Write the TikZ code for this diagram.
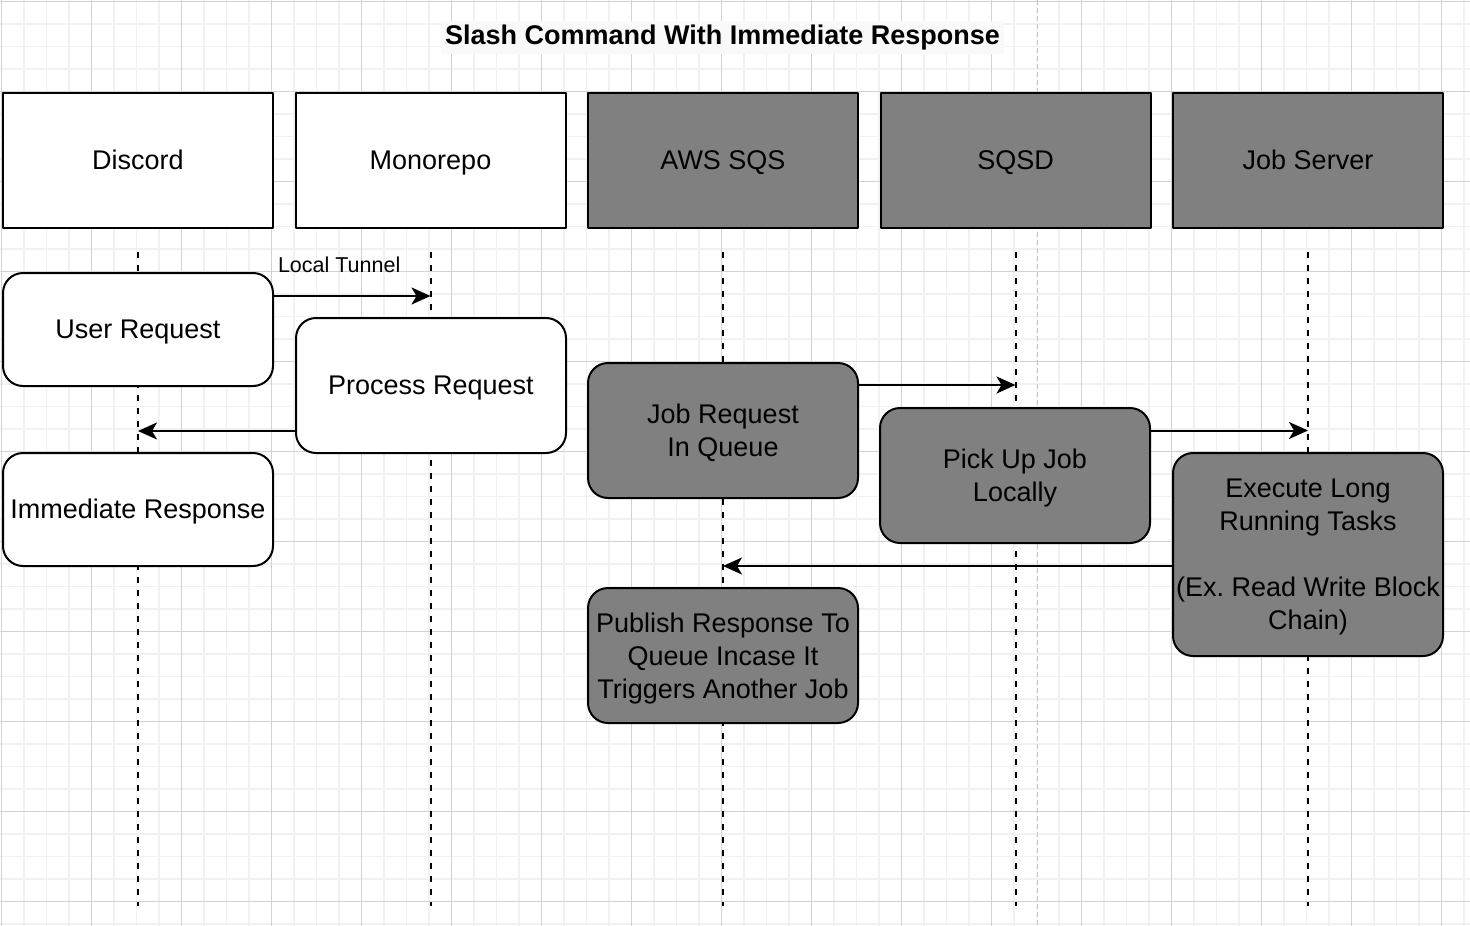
\documentclass[tikz,border=0pt]{standalone}
\usepackage{fontspec}
\setmainfont{Liberation Sans}
\frenchspacing
\usetikzlibrary{arrows.meta,positioning}
\definecolor{gridminor}{HTML}{F1F1F1}
\definecolor{gridmajor}{HTML}{D2D2D2}
\definecolor{pagebreak}{HTML}{C8C8C8}
\definecolor{titlebg}{HTML}{F9F9FA}
\newcommand\linestrut{\rule[-5.6pt]{0pt}{29.6pt}}
\begin{document}
\begin{tikzpicture}[x=1pt, y=-1pt, line join=round,
	>={Stealth[length=19pt,width=17pt,inset=5pt]},
	actor/.style={draw, line width=2pt, minimum width=270pt, minimum height=135pt, inner sep=0pt, outer sep=0pt, execute at begin node=\linestrut, execute at end node=\linestrut, font=\fontsize{27}{33}\selectfont, align=center},
	multi/.style={execute at end node={}, text depth=-2pt},
	dark/.style={fill=gray},
	light/.style={fill=white},
	act/.style={actor, rounded corners=20pt},
	life/.style={line width=2pt, dash pattern=on 6pt off 7pt},
	msg/.style={->, line width=2pt}]
	\def\W{1470} \def\H{926} % size of the page
	\useasboundingbox (0,0) rectangle (\W,\H);
	\fill[white] (0,0) rectangle (\W,\H);
	% grid
	\foreach \i in {0,...,65} \draw[gridminor, line width=1.5pt] ({1.7+22.5*\i},0)--++(0,\H);
	\foreach \i in {0,...,41} \draw[gridminor, line width=1.5pt] (0,{1.7+22.5*\i})--++(\W,0);
	\foreach \i in {0,...,16} \draw[gridmajor, line width=1pt] ({1.7+90*\i},0)--++(0,\H);
	\foreach \i in {0,...,10} \draw[gridmajor, line width=1pt] (0,{1.7+90*\i})--++(\W,0);
	\draw[pagebreak, line width=1.5pt, dash pattern=on 5pt off 3pt] (1037.7,0)--(1037.7,\H);
	% title
	\node[fill=titlebg, inner sep=4pt, text height=20pt, text depth=5pt, font=\fontsize{27}{32}\selectfont\bfseries] (title) at (722.5,37) {Slash Command With Immediate Response};
	% participants
	\node[actor, light] (discord) at (138,160.5) {Discord};
	\node[actor, light, right=22.5pt of discord] (mono) {Monorepo};
	\node[actor, dark, right=22.5pt of mono] (sqs) {AWS SQS};
	\node[actor, dark, right=22.5pt of sqs] (sqsd) {SQSD};
	\node[actor, dark, right=22.5pt of sqsd] (jobsrv) {Job Server};
	\foreach \n in {discord,mono,sqs,sqsd,jobsrv}
		\draw[life] ([yshift=-24pt]\n.south)--([yshift=-678pt]\n.south);
	% activations
	\node[act, light, minimum height=113pt] (userreq) at (138,329.5) {User Request};
	\node[act, light] (procreq) at (431,385.5) {Process Request};
	\node[act, light, minimum height=113pt] (immresp) at (138,509.5) {Immediate Response};
	\node[act, dark, multi] (jobreq) at (723,430.5) {Job Request\\In Queue};
	\node[act, dark, multi] (pickup) at (1015,475.5) {Pick Up Job\\Locally};
	\node[act, dark, multi, minimum height=203pt] (exec) at (1308,554.5) {Execute Long\\Running Tasks\\[33pt](Ex. Read Write Block\\Chain)};
	\node[act, dark, multi] (publish) at (723,655.5) {Publish Response To\\Queue Incase It\\Triggers Another Job};
	% messages
	\coordinate (m1) at ([yshift=33.5pt]userreq.east);
	\coordinate (m2) at ([yshift=-45.5pt]procreq.west);
	\coordinate (m3) at ([yshift=45.5pt]jobreq.east);
	\coordinate (m4) at ([yshift=45pt]pickup.east);
	\coordinate (m5) at ([yshift=-11.5pt]exec.west);
	\draw[msg] (m1)--(m1 -| mono) node[pos=0, anchor=base west, inner sep=0pt, xshift=4pt, yshift=24pt, font=\fontsize{21.5}{24}\selectfont]{Local Tunnel};
	\draw[msg] (m2)--(m2 -| discord);
	\draw[msg] (m3)--(m3 -| sqsd);
	\draw[msg] (m4)--(m4 -| jobsrv);
	\draw[msg] (m5)--(m5 -| sqs);
\end{tikzpicture}
\end{document}
